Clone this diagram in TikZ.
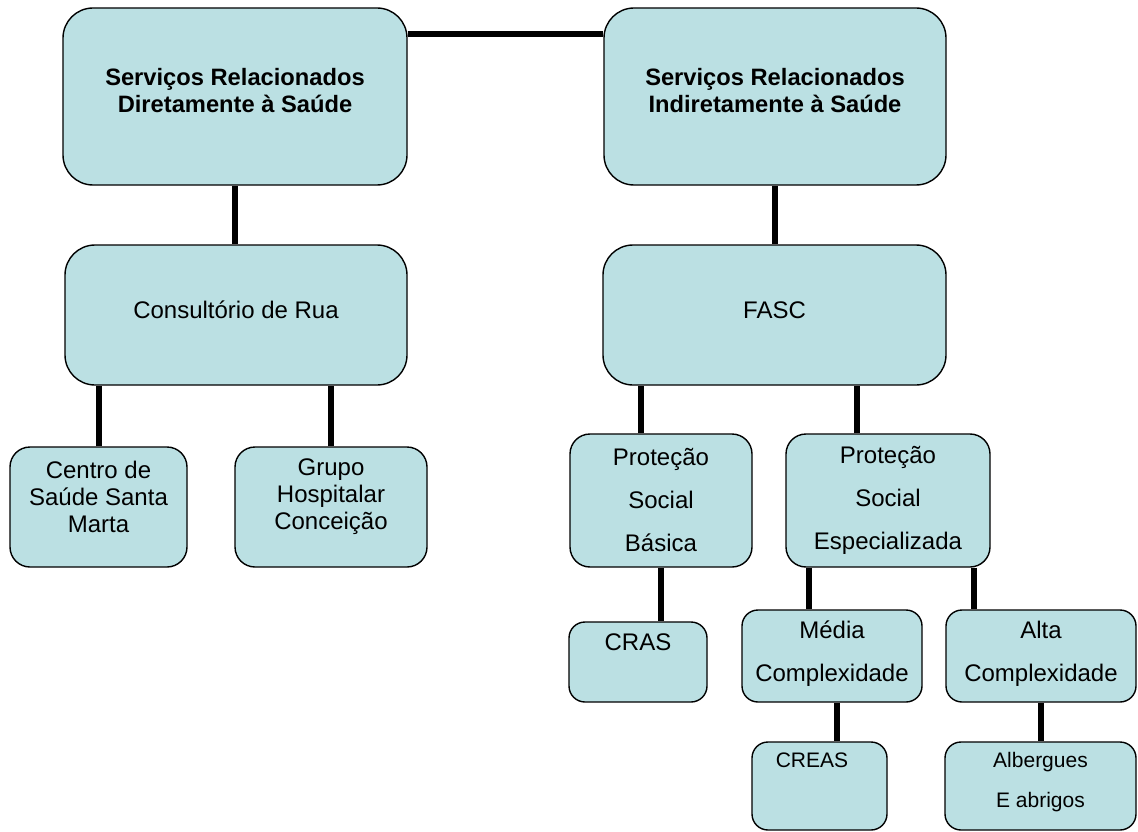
\documentclass[tikz,border=0pt]{standalone}
\usepackage{fontspec}
\setmainfont{Liberation Sans}
\usetikzlibrary{backgrounds}
\definecolor{boxfill}{RGB}{187,224,227}
\begin{document}
\begin{tikzpicture}[x=1pt,y=-1pt,
  box/.style={draw=black, line width=1.4pt, fill=boxfill, rounded corners=#1, inner sep=0pt},
  box/.default=18pt,
  conn/.style={line width=6pt, black},
  txt/.style={align=center, inner sep=0pt, font=\fontsize{24}{27}\selectfont},
  txtb/.style={align=center, inner sep=0pt, font=\bfseries\fontsize{23.7}{26.5}\selectfont},
  txtw/.style={align=center, inner sep=0pt, font=\fontsize{24}{43}\selectfont},
  txts/.style={align=center, inner sep=0pt, font=\fontsize{21}{40}\selectfont}]
\useasboundingbox (0,0) rectangle (1138,832);
% boxes
\node[box=30pt, minimum width=344pt, minimum height=177pt] (A) at (235,96.5) {};
\node[box=30pt, minimum width=342pt, minimum height=177pt] (B) at (775,96.5) {};
\node[box=30pt, minimum width=342pt, minimum height=140pt] (C) at (236,315) {};
\node[box=30pt, minimum width=343pt, minimum height=140pt] (F) at (774.5,315) {};
\node[box=20pt, minimum width=177pt, minimum height=120pt] (Centro) at (98.5,507) {};
\node[box=20pt, minimum width=192pt, minimum height=120pt] (Grupo) at (331,507) {};
\node[box=20pt, minimum width=182pt, minimum height=133pt] (PSB) at (661,500.5) {};
\node[box=20pt, minimum width=204pt, minimum height=133pt] (PSE) at (888,500.5) {};
\node[box=16pt, minimum width=138pt, minimum height=80pt] (CRAS) at (638,662) {};
\node[box=16pt, minimum width=180pt, minimum height=92pt] (Media) at (832,656) {};
\node[box=16pt, minimum width=190pt, minimum height=92pt] (Alta) at (1041,656) {};
\node[box=16pt, minimum width=135pt, minimum height=88pt] (CREAS) at (819.5,786) {};
\node[box=16pt, minimum width=191pt, minimum height=88pt] (Alb) at (1040.5,786) {};
% texts
\node[txtb] (At) at (235,90.5) {Serviços Relacionados\\Diretamente à Saúde};
\node[txtb] (Bt) at (775,90.5) {Serviços Relacionados\\Indiretamente à Saúde};
\node[txt] (Ct) at (236,310) {Consultório de Rua};
\node[txt] (Ft) at (774.5,310) {FASC};
\node[txt] (Centrot) at (98.5,497) {Centro de\\Saúde Santa\\Marta};
\node[txt] (Grupot) at (331,497) {Grupo\\Hospitalar\\Conceição};
\node[txtw] (PSBt) at (661,500) {Proteção\\Social\\Básica};
\node[txtw] (PSEt) at (888,500) {Proteção\\Social\\Especializada};
\node[txt] (CRASt) at (638,642) {CRAS};
\node[txtw] (Mediat) at (832,654) {Média\\Complexidade};
\node[txtw] (Altat) at (1041,654) {Alta\\Complexidade};
\node[txts] (CREASt) at (812,760) {CREAS};
\node[txts] (Albt) at (1040.5,782) {Albergues\\E abrigos};
% connectors
\begin{pgfonlayer}{background}
\draw[conn] ([yshift=62.5pt]A.east) -- ([yshift=62.5pt]B.west);
\draw[conn] (A.south) -- (A.south |- C.north);
\draw[conn] (B.south) -- (B.south |- F.north);
\draw[conn] (Centro.north) -- (Centro.north |- C.south);
\draw[conn] (Grupo.north) -- (Grupo.north |- C.south);
\draw[conn] ([xshift=-20pt]PSB.north) -- ([xshift=-20pt]PSB.north |- F.south);
\draw[conn] ([xshift=-31pt]PSE.north) -- ([xshift=-31pt]PSE.north |- F.south);
\draw[conn] (PSB.south) -- (PSB.south |- CRAS.north);
\draw[conn] ([xshift=-79pt]PSE.south) -- ([xshift=-79pt]PSE.south |- Media.north);
\draw[conn] ([xshift=86pt]PSE.south) -- ([xshift=86pt]PSE.south |- Alta.north);
\draw[conn] ([xshift=5pt]Media.south) -- ([xshift=5pt]Media.south |- CREAS.north);
\draw[conn] (Alta.south) -- (Alta.south |- Alb.north);
\end{pgfonlayer}
\end{tikzpicture}
\end{document}
